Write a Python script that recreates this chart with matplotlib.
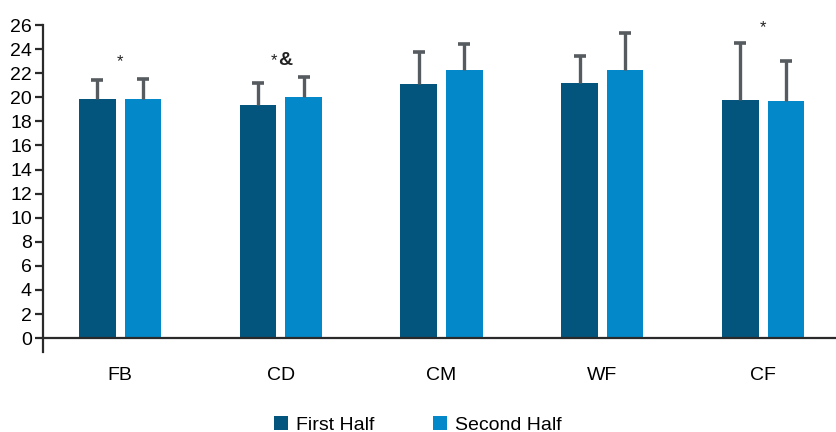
import numpy as np
import matplotlib.pyplot as plt

positions = ["FB", "CD", "CM", "WF", "CF"]
first_half = [19.9, 19.4, 21.1, 21.2, 19.8]
first_sd = [1.5, 1.75, 2.7, 2.2, 4.7]
second_half = [19.9, 20.05, 22.3, 22.3, 19.7]
second_sd = [1.6, 1.6, 2.1, 3.0, 3.3]

plt.rcParams["font.family"] = ["Liberation Sans", "DejaVu Sans"]

dark = "#03557d"
light = "#0389c9"
err_col = "#565b60"

fig = plt.figure(figsize=(8.37, 4.32), dpi=100)
ax = fig.add_axes([0.0514, 0.185, 0.9486, 0.757])

x = np.arange(len(positions))
w = 0.228
off = 0.142
b1 = ax.bar(x - off, first_half, w, color=dark, label="First Half")
b2 = ax.bar(x + off, second_half, w, color=light, label="Second Half")

# upper-only error bars (SD)
for xs, mean, sd in [(x - off, first_half, first_sd), (x + off, second_half, second_sd)]:
    top = np.array(mean) + np.array(sd)
    ax.vlines(xs, mean, top, color=err_col, lw=2.4, zorder=3)
    ax.plot(xs, top, ls="none", marker="_", ms=9, mew=2.6, color=err_col, zorder=3)

# significance marks
ax.text(0, 22.3, "*", ha="center", va="bottom", fontsize=12, color="#222")
ax.text(1 - 0.02, 22.4, "*", ha="right", va="bottom", fontsize=12, color="#222")
ax.text(1 - 0.02, 22.35, "&", ha="left", va="bottom", fontsize=14,
        fontweight="bold", color="#222")
ax.text(4, 25.2, "*", ha="center", va="bottom", fontsize=12, color="#222")

ax.set_xlim(-0.48, 4.46)
ax.set_ylim(-1.16, 26)
ax.set_yticks(range(0, 27, 2))
ax.set_xticks(x)
ax.set_xticklabels(positions)
ax.axhline(0, color="#2a2a2a", lw=1.6, zorder=4)

for s in ["top", "right", "bottom"]:
    ax.spines[s].set_visible(False)
ax.spines["left"].set_linewidth(1.6)
ax.spines["left"].set_color("#2a2a2a")
ax.tick_params(axis="y", length=6, width=1.6, pad=2, labelsize=14, color="#2a2a2a")
ax.tick_params(axis="x", length=0, pad=11, labelsize=14)

fig.legend(handles=[b1, b2], loc="center", bbox_to_anchor=(0.499, 0.017), ncol=2,
           frameon=False, fontsize=14, handlelength=0.75, handleheight=0.75,
           handletextpad=0.4, columnspacing=3.0, borderpad=0)

fig.savefig("out.png", dpi=100)
